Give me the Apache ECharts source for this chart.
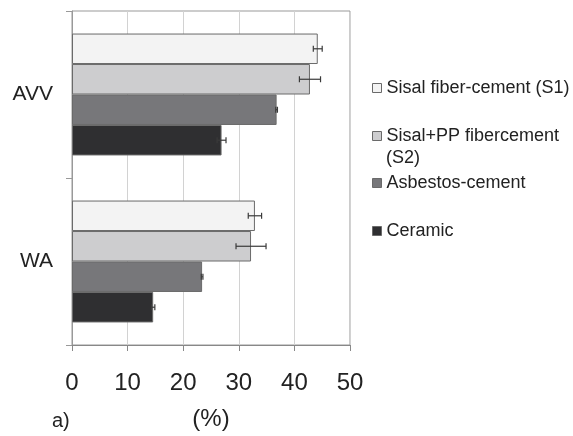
<!DOCTYPE html>
<html>
<head>
<meta charset="utf-8">
<script src="https://cdn.jsdelivr.net/npm/echarts@6/dist/echarts.min.js"></script>
<style>
html,body{margin:0;padding:0;background:#fff;}
#chart{width:573px;height:436px;}
</style>
</head>
<body>
<div id="chart"></div>
<script>
// Categories listed bottom to top
var categories = ['WA', 'AVV'];
var seriesNames = ['Sisal fiber-cement (S1)', 'Sisal+PP fibercement (S2)', 'Asbestos-cement', 'Ceramic'];
var s1Values = [32.9, 44.2];
var s1Errors = [1.2, 0.8];
var s2Values = [32.2, 42.8];
var s2Errors = [2.7, 1.9];
var asbestosValues = [23.4, 36.8];
var asbestosErrors = [0.15, 0.15];
var ceramicValues = [14.6, 26.9];
var ceramicErrors = [0.3, 0.8];
var xTicks = [0, 10, 20, 30, 40, 50];

var values = [s1Values, s2Values, asbestosValues, ceramicValues];
var errors = [s1Errors, s2Errors, asbestosErrors, ceramicErrors];
var colors = ['#f3f3f3', '#cdcdcf', '#77777a', '#2f2f31'];
var font = 'Arial, "Liberation Sans", sans-serif';
var catGap = 0.27;
var nSeries = 4;

var chart = echarts.init(document.getElementById('chart'));

var series = [];
values.forEach(function (vals, i) {
  series.push({
    name: seriesNames[i],
    type: 'bar',
    data: vals,
    barGap: '0%',
    barCategoryGap: (catGap * 100) + '%',
    itemStyle: { color: colors[i], borderColor: '#6a6a6a', borderWidth: 1 },
    emphasis: { disabled: true },
    z: 2
  });
});

values.forEach(function (vals, i) {
  var data = vals.map(function (v, c) { return [v, c, errors[i][c]]; });
  series.push({
    type: 'custom',
    coordinateSystem: 'cartesian2d',
    data: data,
    encode: { x: 0, y: 1 },
    z: 5,
    silent: true,
    renderItem: function (params, api) {
      var v = api.value(0), c = api.value(1), e = api.value(2);
      var band = api.size([0, 1])[1];
      var total = band * (1 - catGap);
      var each = total / nSeries;
      var offset = -total / 2 + each * (i + 0.5);
      var lo = api.coord([v - e, c]);
      var hi = api.coord([v + e, c]);
      var y = lo[1] + offset;
      var cap = 3;
      var style = { stroke: '#3a3a3a', lineWidth: 1.2 };
      return {
        type: 'group',
        children: [
          { type: 'line', shape: { x1: lo[0], y1: y, x2: hi[0], y2: y }, style: style },
          { type: 'line', shape: { x1: lo[0], y1: y - cap, x2: lo[0], y2: y + cap }, style: style },
          { type: 'line', shape: { x1: hi[0], y1: y - cap, x2: hi[0], y2: y + cap }, style: style }
        ]
      };
    }
  });
});

var legendTops = [88, 136, 183, 231];
var legends = seriesNames.map(function (name, i) {
  return {
    data: [name],
    orient: 'vertical',
    left: 372,
    top: legendTops[i] - 10,
    padding: 0,
    icon: 'rect',
    itemWidth: 9,
    itemHeight: 9,
    itemGap: 6,
    selectedMode: false,
    formatter: i === 1 ? function () { return 'Sisal+PP fibercement'; } : undefined,
    textStyle: { fontSize: 18, fontFamily: font, color: '#222', lineHeight: 20 },
    itemStyle: { borderColor: '#6a6a6a', borderWidth: 1 }
  };
});

chart.setOption({
  animation: false,
  backgroundColor: '#fff',
  grid: {
    left: 72, right: 223, top: 11, bottom: 91,
    show: true, borderColor: '#999', borderWidth: 1, backgroundColor: 'transparent'
  },
  legend: legends,
  xAxis: {
    type: 'value',
    min: xTicks[0],
    max: xTicks[xTicks.length - 1],
    interval: 10,
    name: '(%)',
    nameLocation: 'middle',
    nameGap: 62,
    nameTextStyle: { fontSize: 24, fontFamily: font, color: '#222' },
    axisLine: { show: true, lineStyle: { color: '#888', width: 1 } },
    axisTick: { show: true, length: 6, lineStyle: { color: '#888' } },
    axisLabel: { fontSize: 24, fontFamily: font, color: '#222', margin: 26 },
    splitLine: { show: true, lineStyle: { color: '#d2d2d2', width: 1 } }
  },
  yAxis: {
    type: 'category',
    data: categories,
    axisLine: { show: true, lineStyle: { color: '#999', width: 1 } },
    axisTick: { show: true, length: 6, lineStyle: { color: '#999' } },
    axisLabel: { fontSize: 21, fontFamily: font, color: '#222', margin: 19 },
    splitLine: { show: false }
  },
  graphic: [
    { type: 'text', left: 386, top: 149, style: { text: '(S2)', fontSize: 18, fontFamily: font, fill: '#222' } },
    { type: 'text', left: 52, top: 411, style: { text: 'a)', fontSize: 20, fontFamily: font, fill: '#222' } }
  ],
  series: series
});
</script>
</body>
</html>
